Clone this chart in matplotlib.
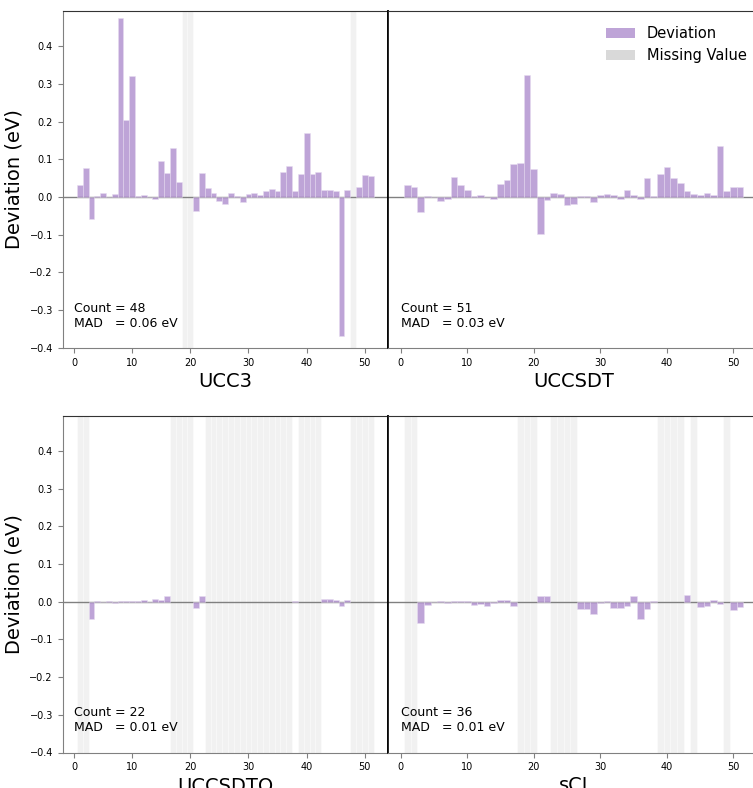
import numpy as np
import matplotlib
matplotlib.use("Agg")
import matplotlib.pyplot as plt
from matplotlib.patches import Patch

# molecule index 1..51, NaN = missing value
idx = np.arange(1, 52)
nan = np.nan

ucc3 = [0.033, 0.078, -0.057, 0.003, 0.011, 0.001, 0.009, 0.474, 0.204, 0.321,
        0.004, 0.006, 0.001, -0.004, 0.095, 0.065, 0.130, 0.041, nan, nan,
        -0.037, 0.064, 0.023, 0.010, -0.011, -0.019, 0.012, 0.004, -0.013, 0.007,
        0.010, 0.006, 0.017, 0.021, 0.016, 0.066, 0.082, 0.015, 0.062, 0.170,
        0.061, 0.067, 0.018, 0.019, 0.016, -0.370, 0.018, nan, 0.028, 0.059,
        0.057]

uccsdt = [0.033, 0.027, -0.039, 0.002, 0.001, -0.011, -0.004, 0.053, 0.033, 0.019,
          0.003, 0.005, 0.001, -0.004, 0.034, 0.045, 0.089, 0.091, 0.325, 0.074,
          -0.098, -0.008, 0.012, 0.009, -0.021, -0.019, 0.003, 0.003, -0.013, 0.006,
          0.008, 0.005, -0.005, 0.020, 0.005, -0.005, 0.051, 0.004, 0.062, 0.080,
          0.050, 0.037, 0.017, 0.008, 0.005, 0.011, 0.006, 0.136, 0.017, 0.028,
          0.026]

uccsdtq = [nan, nan, -0.047, 0.001, 0.0, 0.001, -0.003, 0.003, 0.003, 0.001,
           0.002, 0.005, -0.001, 0.007, 0.005, 0.016, nan, nan, nan, nan,
           -0.016, 0.015, nan, nan, nan, nan, nan, nan, nan, nan,
           nan, nan, nan, nan, nan, nan, nan, 0.003, nan, nan,
           nan, nan, 0.007, 0.008, 0.006, -0.010, 0.006, nan, nan, nan,
           nan]

sci = [nan, nan, -0.057, -0.008, 0.0, 0.001, -0.002, 0.003, 0.003, 0.001,
       -0.008, -0.006, -0.012, -0.004, 0.005, 0.005, -0.011, nan, nan, nan,
       0.015, 0.015, nan, nan, nan, nan, -0.018, -0.018, -0.032, -0.002,
       0.001, -0.016, -0.016, -0.010, 0.016, -0.046, -0.019, 0.003, nan, nan,
       nan, nan, 0.018, nan, -0.015, -0.010, 0.006, -0.006, nan, -0.022,
       -0.014]

methods = ["UCC3", "UCCSDT", "UCCSDTQ", "sCI"]
series = [ucc3, uccsdt, uccsdtq, sci]

W, H = 753, 788
fig = plt.figure(figsize=(W / 100, H / 100), dpi=100)

# axes boxes in pixels: left, top, width, height (right column runs past the edge)
boxes = [(62.7, 11.3, 325.0, 336.5), (387.7, 11.3, 372.0, 336.5),
         (62.7, 416.0, 325.0, 336.5), (387.7, 416.0, 372.0, 336.5)]

purple = "tab:purple"
axes = []
for k, (name, vals) in enumerate(zip(methods, series)):
    l, t, w, h = boxes[k]
    ax = fig.add_axes([l / W, (H - t - h) / H, w / W, h / H])
    axes.append(ax)
    vals = np.array(vals, dtype=float)
    missing = np.isnan(vals)

    for i in idx[missing]:
        ax.axvspan(i - 0.5, i + 0.5, facecolor="lightgray", alpha=0.3,
                   edgecolor="white", linewidth=0.8, zorder=0)
    ax.axhline(0, color="gray", linewidth=1, zorder=1)
    ax.bar(idx[~missing], vals[~missing], width=1.0, color=purple, alpha=0.6,
           edgecolor="#e6dcf0", linewidth=0.6, zorder=2)

    count = int((~missing).sum())
    mad = np.nanmean(np.abs(vals))
    ax.text(0, -0.352, f"Count = {count}\nMAD   = {mad:.2f} eV", fontsize=9,
            va="bottom", ha="left")

    ax.set_xlim(-1.94, 53.94)
    ax.set_ylim(-0.4, 0.493)
    ax.set_xticks([0, 10, 20, 30, 40, 50])
    ax.set_yticks(np.arange(-0.4, 0.41, 0.1))
    ax.tick_params(labelsize=7, color="gray")
    ax.set_xlabel(name, fontsize=14, labelpad=3)

    ax.spines["top"].set_color("#333333")
    ax.spines["bottom"].set_color("gray")
    ax.spines["left"].set_color("gray")
    ax.spines["right"].set_color("black")
    ax.spines["right"].set_linewidth(1.2)
    if k % 2 == 0:
        ax.set_ylabel("Deviation (eV)", fontsize=14)
    else:
        ax.spines["left"].set_color("black")
        ax.spines["left"].set_linewidth(1.2)
        ax.tick_params(left=False, labelleft=False)

handles = [Patch(facecolor=purple, alpha=0.6, label="Deviation"),
           Patch(facecolor="lightgray", alpha=0.85, label="Missing Value")]
axes[1].legend(handles=handles, loc="upper right", frameon=False, fontsize=10.5,
               bbox_to_anchor=(1.0, 0.995))

fig.savefig("out.png", dpi=100)
